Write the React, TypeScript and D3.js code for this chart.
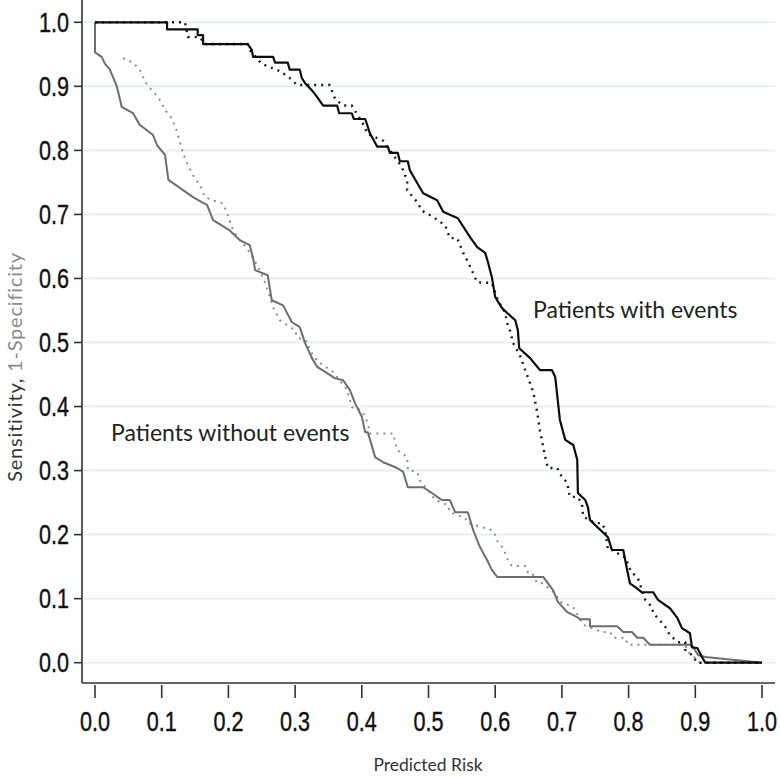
import React, { useRef, useEffect } from "react";
import * as d3 from "d3";

type Pt = [number, number];

// y-axis ticks (0.0 .. 1.0) and x-axis ticks share the same values
const tickValues = [0, 0.1, 0.2, 0.3, 0.4, 0.5, 0.6, 0.7, 0.8, 0.9, 1.0];

// patients with events: observed (solid) and predicted (dotted)
const withEventsSolid: Pt[] = [
  [0, 1], [0.108, 1], [0.108, 0.989], [0.154, 0.989], [0.154, 0.98], [0.162, 0.98],
  [0.162, 0.966], [0.229, 0.966], [0.235, 0.957], [0.237, 0.946], [0.267, 0.946],
  [0.27, 0.937], [0.289, 0.937], [0.292, 0.926], [0.307, 0.926], [0.31, 0.913],
  [0.315, 0.905], [0.325, 0.894], [0.334, 0.882], [0.342, 0.87], [0.363, 0.87],
  [0.366, 0.858], [0.385, 0.858], [0.388, 0.849], [0.405, 0.849], [0.408, 0.84],
  [0.412, 0.827], [0.423, 0.806], [0.439, 0.806], [0.442, 0.796], [0.454, 0.796],
  [0.457, 0.783], [0.469, 0.783], [0.472, 0.769], [0.492, 0.733], [0.513, 0.722],
  [0.522, 0.704], [0.544, 0.694], [0.562, 0.665], [0.573, 0.649], [0.585, 0.64],
  [0.589, 0.626], [0.595, 0.602], [0.6, 0.571], [0.61, 0.554], [0.618, 0.546],
  [0.63, 0.535], [0.634, 0.519], [0.636, 0.491], [0.652, 0.476], [0.667, 0.457],
  [0.685, 0.457], [0.69, 0.446], [0.697, 0.379], [0.705, 0.348], [0.717, 0.34],
  [0.723, 0.317], [0.724, 0.265], [0.735, 0.254], [0.739, 0.243], [0.742, 0.223],
  [0.769, 0.196], [0.775, 0.176], [0.792, 0.176], [0.797, 0.149], [0.802, 0.124],
  [0.81, 0.118], [0.82, 0.11], [0.837, 0.11], [0.844, 0.098], [0.862, 0.085],
  [0.873, 0.07], [0.88, 0.054], [0.892, 0.046], [0.895, 0.024], [0.903, 0.023],
  [0.91, 0.009], [0.915, 0], [1, 0],
];

const withEventsDotted: Pt[] = [
  [0, 1], [0.135, 1], [0.139, 0.977], [0.157, 0.977], [0.165, 0.966], [0.229, 0.966],
  [0.232, 0.957], [0.25, 0.935], [0.277, 0.924], [0.292, 0.913], [0.303, 0.902],
  [0.352, 0.902], [0.36, 0.88], [0.372, 0.87], [0.385, 0.87], [0.405, 0.836],
  [0.408, 0.826], [0.432, 0.815], [0.46, 0.774], [0.468, 0.753], [0.468, 0.738],
  [0.484, 0.718], [0.49, 0.706], [0.507, 0.696], [0.525, 0.683], [0.532, 0.663],
  [0.543, 0.663], [0.552, 0.64], [0.56, 0.624], [0.567, 0.608], [0.573, 0.594],
  [0.595, 0.593], [0.604, 0.566], [0.615, 0.546], [0.618, 0.53], [0.622, 0.519],
  [0.627, 0.499], [0.637, 0.48], [0.645, 0.457], [0.657, 0.423], [0.663, 0.391],
  [0.667, 0.363], [0.675, 0.321], [0.679, 0.304], [0.693, 0.304], [0.7, 0.29],
  [0.708, 0.281], [0.712, 0.259], [0.723, 0.259], [0.73, 0.249], [0.732, 0.228],
  [0.75, 0.218], [0.76, 0.218], [0.765, 0.207], [0.769, 0.176], [0.775, 0.176],
  [0.797, 0.163], [0.799, 0.152], [0.805, 0.141], [0.814, 0.132], [0.825, 0.098],
  [0.835, 0.087], [0.837, 0.077], [0.847, 0.066], [0.855, 0.056], [0.862, 0.043],
  [0.874, 0.032], [0.885, 0.032], [0.885, 0.02], [0.895, 0.012], [0.903, 0], [1, 0],
];

// patients without events: observed (solid) and predicted (dotted)
const withoutEventsSolid: Pt[] = [
  [0, 1], [0, 0.953], [0.01, 0.946], [0.015, 0.935], [0.022, 0.927], [0.033, 0.899],
  [0.04, 0.868], [0.057, 0.858], [0.067, 0.84], [0.087, 0.824], [0.093, 0.808],
  [0.105, 0.793], [0.11, 0.754], [0.132, 0.738], [0.147, 0.727], [0.162, 0.718],
  [0.168, 0.715], [0.177, 0.691], [0.202, 0.675], [0.217, 0.66], [0.232, 0.652],
  [0.237, 0.632], [0.24, 0.613], [0.259, 0.605], [0.265, 0.566], [0.282, 0.558],
  [0.295, 0.532], [0.307, 0.524], [0.315, 0.499], [0.325, 0.476], [0.333, 0.462],
  [0.345, 0.454], [0.36, 0.444], [0.372, 0.441], [0.382, 0.426], [0.39, 0.405],
  [0.4, 0.384], [0.405, 0.36], [0.409, 0.36], [0.42, 0.321], [0.432, 0.313],
  [0.453, 0.304], [0.462, 0.298], [0.469, 0.274], [0.492, 0.274], [0.505, 0.265],
  [0.52, 0.254], [0.532, 0.254], [0.54, 0.235], [0.559, 0.235], [0.567, 0.207],
  [0.577, 0.181], [0.588, 0.16], [0.595, 0.145], [0.603, 0.134], [0.672, 0.134],
  [0.687, 0.113], [0.694, 0.095], [0.708, 0.079], [0.723, 0.071], [0.727, 0.068],
  [0.742, 0.068], [0.742, 0.057], [0.783, 0.057], [0.792, 0.048], [0.805, 0.048],
  [0.813, 0.039], [0.822, 0.039], [0.832, 0.028], [0.892, 0.028], [0.897, 0.024],
  [0.904, 0.012], [0.915, 0.009], [1, 0],
];

const withoutEventsDotted: Pt[] = [
  [0.042, 0.944], [0.057, 0.937], [0.067, 0.926], [0.078, 0.902], [0.095, 0.883],
  [0.105, 0.863], [0.115, 0.85], [0.123, 0.829], [0.132, 0.795], [0.145, 0.764],
  [0.157, 0.746], [0.165, 0.727], [0.177, 0.722], [0.192, 0.717], [0.198, 0.702],
  [0.207, 0.675], [0.217, 0.66], [0.228, 0.647], [0.243, 0.621], [0.255, 0.594],
  [0.267, 0.555], [0.277, 0.535], [0.3, 0.519], [0.303, 0.508], [0.319, 0.501],
  [0.322, 0.488], [0.334, 0.47], [0.357, 0.454], [0.378, 0.426], [0.385, 0.399],
  [0.4, 0.394], [0.409, 0.374], [0.412, 0.358], [0.447, 0.358], [0.45, 0.344],
  [0.453, 0.332], [0.468, 0.321], [0.469, 0.301], [0.483, 0.298], [0.487, 0.285],
  [0.502, 0.266], [0.51, 0.254], [0.529, 0.246], [0.532, 0.235], [0.555, 0.226],
  [0.559, 0.218], [0.595, 0.207], [0.6, 0.199], [0.604, 0.188], [0.612, 0.179],
  [0.615, 0.171], [0.619, 0.16], [0.625, 0.151], [0.645, 0.151], [0.649, 0.141],
  [0.655, 0.141], [0.663, 0.124], [0.67, 0.124], [0.685, 0.113], [0.693, 0.103],
  [0.697, 0.095], [0.717, 0.087], [0.732, 0.059], [0.76, 0.048], [0.772, 0.048],
  [0.777, 0.039], [0.795, 0.039], [0.799, 0.028], [0.885, 0.028], [0.889, 0.017],
  [0.9, 0.007], [0.907, 0], [1, 0],
];

const tickFont = "'Liberation Sans', Arial, sans-serif";
const labelFont = "Lato, 'Open Sans', sans-serif";
const narrow = 0.8; // horizontal squeeze for the condensed tick digits

const App = () => {
  const svgRef = useRef<SVGSVGElement>(null);

  const drawChart = () => {
    const width = 780;
    const height = 778;
    const svg = d3.select(svgRef.current);
    svg.selectAll("*").remove();
    svg.attr("width", width).attr("height", height);

    /* scales */
    const x = d3.scaleLinear().domain([0, 1]).range([95, 762]);
    const y = d3.scaleLinear().domain([0, 1]).range([662.7, 22.3]);

    const axisX = 82;
    const axisY = 683;

    /* horizontal gridlines */
    svg
      .append("g")
      .selectAll("line")
      .data(tickValues)
      .enter()
      .append("line")
      .attr("x1", axisX + 2)
      .attr("x2", 775)
      .attr("y1", (d) => y(d))
      .attr("y2", (d) => y(d))
      .attr("stroke", "#e4f1f1")
      .attr("stroke-width", 2);

    /* the curves */
    const line = d3
      .line<Pt>()
      .x((d) => x(d[0]))
      .y((d) => y(d[1]));

    const series = [
      { data: withoutEventsDotted, color: "#8c8c8c", width: 2, dash: "2,5" },
      { data: withoutEventsSolid, color: "#6e6e6e", width: 2, dash: null },
      { data: withEventsDotted, color: "#1a1a1a", width: 2.4, dash: "2,5" },
      { data: withEventsSolid, color: "#0d0d0d", width: 2.2, dash: null },
    ];

    series.forEach((s) => {
      svg
        .append("path")
        .datum(s.data)
        .attr("fill", "none")
        .attr("stroke", s.color)
        .attr("stroke-width", s.width)
        .attr("stroke-linejoin", "round")
        .attr("stroke-dasharray", s.dash)
        .attr("d", line);
    });

    /* axis lines */
    svg
      .append("line")
      .attr("x1", axisX)
      .attr("x2", axisX)
      .attr("y1", 0)
      .attr("y2", axisY)
      .attr("stroke", "#333")
      .attr("stroke-width", 1.6);
    svg
      .append("line")
      .attr("x1", axisX)
      .attr("x2", 775)
      .attr("y1", axisY)
      .attr("y2", axisY)
      .attr("stroke", "#333")
      .attr("stroke-width", 1.6);

    /* y ticks and labels */
    const yTicks = svg.append("g").selectAll("g").data(tickValues).enter().append("g");
    yTicks
      .append("line")
      .attr("x1", axisX - 8)
      .attr("x2", axisX)
      .attr("y1", (d) => y(d))
      .attr("y2", (d) => y(d))
      .attr("stroke", "#333")
      .attr("stroke-width", 1.6);
    yTicks
      .append("text")
      .attr("transform", (d) => `translate(69, ${y(d)}) scale(${narrow}, 1)`)
      .attr("dy", "0.36em")
      .attr("text-anchor", "end")
      .style("font-family", tickFont)
      .style("font-size", "27px")
      .style("fill", "#111")
      .style("stroke", "#111")
      .style("stroke-width", 0.4)
      .text((d) => d3.format(".1f")(d));

    /* x ticks and labels */
    const xTicks = svg.append("g").selectAll("g").data(tickValues).enter().append("g");
    xTicks
      .append("line")
      .attr("x1", (d) => x(d))
      .attr("x2", (d) => x(d))
      .attr("y1", axisY + 2)
      .attr("y2", axisY + 15)
      .attr("stroke", "#333")
      .attr("stroke-width", 1.6);
    xTicks
      .append("text")
      .attr("transform", (d) => `translate(${x(d)}, 731) scale(${narrow}, 1)`)
      .attr("text-anchor", "middle")
      .style("font-family", tickFont)
      .style("font-size", "27px")
      .style("fill", "#111")
      .style("stroke", "#111")
      .style("stroke-width", 0.4)
      .text((d) => d3.format(".1f")(d));

    /* axis titles */
    svg
      .append("text")
      .attr("x", 428)
      .attr("y", 771)
      .attr("text-anchor", "middle")
      .style("font-family", labelFont)
      .style("font-size", "17.5px")
      .style("fill", "#333")
      .text("Predicted Risk");

    const yTitle = svg
      .append("text")
      .attr("transform", "translate(22, 367) rotate(-90)")
      .attr("text-anchor", "middle")
      .style("font-family", labelFont)
      .style("font-size", "20px")
      .style("letter-spacing", "0.8px");
    yTitle.append("tspan").style("fill", "#333").text("Sensitivity, ");
    yTitle.append("tspan").style("fill", "#8a8a8a").text("1-Specificity");

    /* curve annotations */
    svg
      .append("text")
      .attr("x", 533)
      .attr("y", 318)
      .style("font-family", labelFont)
      .style("font-size", "23px")
      .style("fill", "#222")
      .text("Patients with events");
    svg
      .append("text")
      .attr("x", 111)
      .attr("y", 441)
      .style("font-family", labelFont)
      .style("font-size", "23px")
      .style("fill", "#222")
      .text("Patients without events");
  };

  useEffect(() => {
    drawChart();
  }, []);

  return (
    <div className="rocChart">
      <svg ref={svgRef} style={{ position: "absolute", left: 0, top: 0, background: "#fff" }} />
    </div>
  );
};

export default App;
